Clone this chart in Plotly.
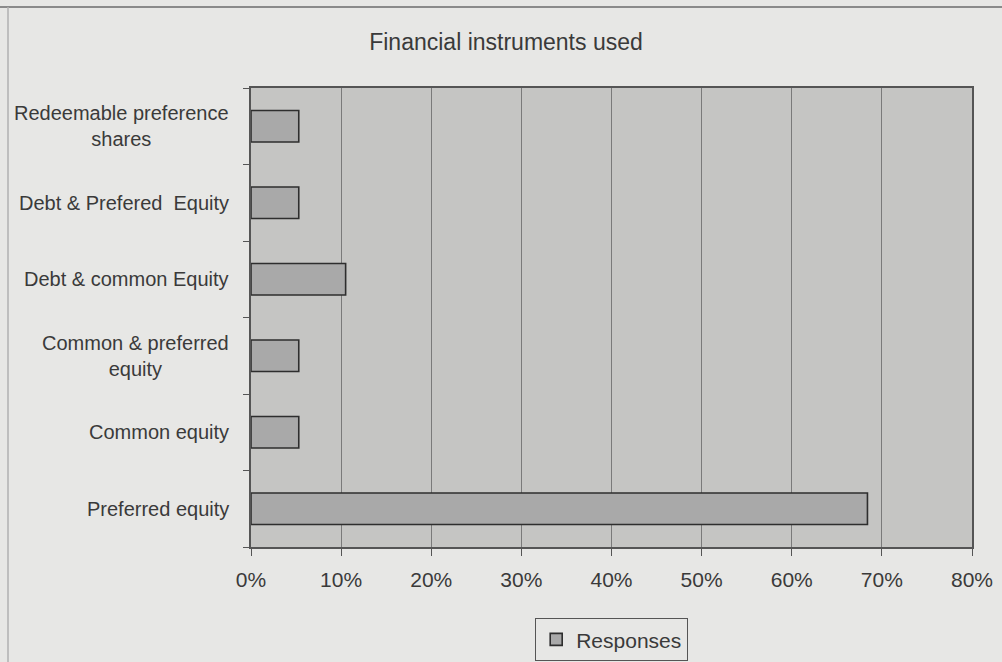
import plotly.graph_objects as go

categories = [
    "Redeemable preference<br>shares",
    "Debt & Prefered  Equity",
    "Debt & common Equity",
    "Common & preferred<br>equity",
    "Common equity",
    "Preferred equity",
]
responses = [5.3, 5.3, 10.5, 5.3, 5.3, 68.4]
tick_vals = [0, 10, 20, 30, 40, 50, 60, 70, 80]
tick_text = ["0%", "10%", "20%", "30%", "40%", "50%", "60%", "70%", "80%"]

FONT = "Liberation Sans, Arial, sans-serif"
TXT = "#3a3a3a"

fig = go.Figure()
fig.add_trace(go.Bar(
    y=categories,
    x=responses,
    orientation="h",
    name="Responses",
    marker=dict(color="#a9a9a9", line=dict(color="#2e2e2e", width=1.6)),
))

# plot area in pixels: x 251..972, y 88..547
L, R, T, B = 251, 972, 88, 547
W, H = R - L, B - T
def px(x):
    return (x - L) / W
def py(y):
    return (B - y) / H

# category labels drawn as annotations on the category axis (centred multi-line text)
annotations = [
    dict(
        x=px(231), xref="paper", xanchor="right",
        y=c, yref="y", yanchor="middle",
        text=c, align="center", showarrow=False,
        font=dict(size=20, color=TXT, family=FONT),
    )
    for c in categories
]

fig.update_layout(
    width=1002,
    height=662,
    margin=dict(l=L, r=1002 - R, t=T, b=662 - B, autoexpand=False),
    paper_bgcolor="#e7e7e5",
    plot_bgcolor="#c5c5c3",
    font=dict(family=FONT, color=TXT, size=20),
    title=dict(
        text="Financial instruments used",
        x=506 / 1002, xanchor="center",
        y=1 - 42 / 662, yanchor="middle",
        font=dict(size=23, color=TXT),
    ),
    bargap=0.59,
    showlegend=True,
    legend=dict(
        orientation="h",
        x=0.5, xanchor="center",
        y=py(618), yanchor="top",
        bgcolor="#e7e7e5",
        bordercolor="#555555",
        borderwidth=1.2,
        font=dict(size=21, color=TXT),
    ),
    annotations=annotations,
    shapes=[
        dict(type="line", xref="paper", yref="paper",
             x0=px(0), x1=px(1002), y0=py(7), y1=py(7),
             line=dict(color="#8a8a8a", width=2)),
        dict(type="line", xref="paper", yref="paper",
             x0=px(8), x1=px(8), y0=py(7), y1=py(662),
             line=dict(color="#b0b0b0", width=1.5)),
    ],
)

fig.update_xaxes(
    range=[0, 80],
    tickvals=tick_vals,
    ticktext=tick_text,
    showgrid=True,
    gridcolor="#7a7a7a",
    gridwidth=1,
    zeroline=False,
    showline=True,
    linecolor="#555555",
    linewidth=1.5,
    mirror=True,
    ticks="outside",
    ticklen=7,
    tickcolor="#555555",
    ticklabelstandoff=6,
    tickfont=dict(size=21, color=TXT),
    fixedrange=True,
)
fig.update_yaxes(
    categoryorder="array",
    categoryarray=categories[::-1],
    showgrid=False,
    showline=True,
    linecolor="#555555",
    linewidth=1.5,
    mirror=True,
    ticks="outside",
    tickson="boundaries",
    ticklen=6,
    tickcolor="#555555",
    showticklabels=False,
    fixedrange=True,
)

fig.write_html("out.html")
